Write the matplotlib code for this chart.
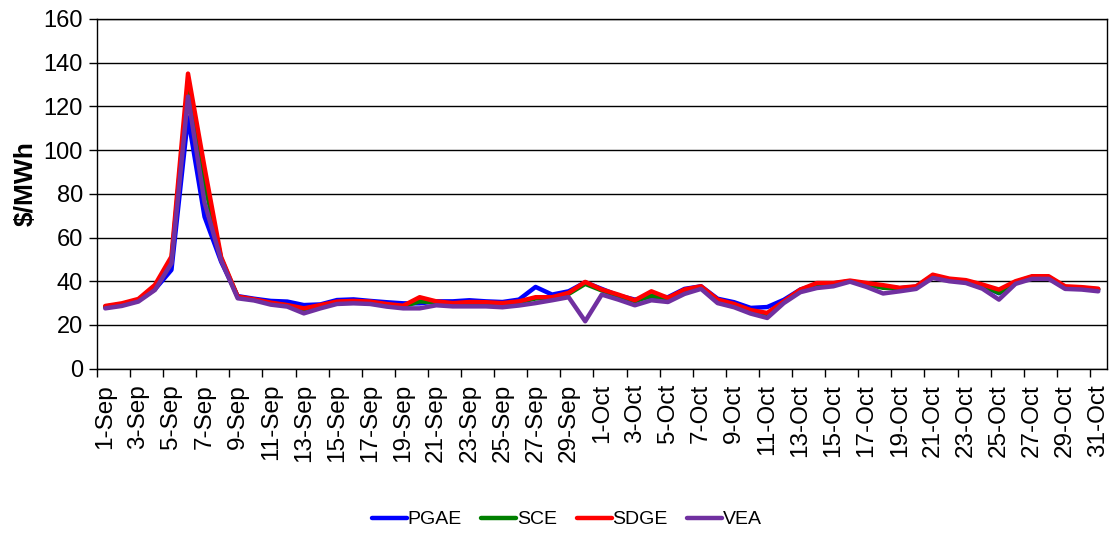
import matplotlib.pyplot as plt
import numpy as np

plt.rcParams["font.family"] = ["Liberation Sans", "DejaVu Sans"]

DAYS = [f"{d}-Sep" for d in range(1, 31)] + [f"{d}-Oct" for d in range(1, 32)]

PGAE = [28.2, 29.3, 31.2, 36.3, 45.2, 115.0, 69.5, 49.0, 33.2, 32.0,
        31.0, 30.7, 29.1, 29.4, 31.4, 31.7, 31.0, 30.4, 29.9, 29.9,
        30.8, 30.8, 31.3, 30.8, 30.5, 31.6, 37.4, 33.9, 35.4, 39.5,
        36.5, 33.5, 31.6, 33.0, 32.7, 36.5, 37.7, 32.0, 30.4, 27.8,
        28.2, 31.5, 36.2, 38.5, 39.0, 40.0, 38.8, 37.5, 36.8, 37.5,
        42.5, 40.8, 40.0, 38.0, 34.5, 39.5, 42.0, 42.0, 37.2, 36.8,
        36.2]

SCE = [28.4, 29.5, 31.5, 37.5, 49.5, 130.0, 85.0, 50.5, 32.8, 31.5,
       30.0, 29.0, 27.2, 28.8, 30.4, 30.8, 30.4, 29.3, 28.5, 30.8,
       30.3, 29.6, 30.0, 29.8, 29.5, 30.4, 32.1, 32.3, 34.2, 38.8,
       35.8, 33.3, 30.8, 33.4, 32.0, 35.7, 37.2, 31.2, 29.2, 26.5,
       25.0, 30.5, 35.8, 38.8, 38.7, 40.0, 38.5, 37.0, 36.7, 37.3,
       42.5, 40.8, 40.0, 38.0, 34.7, 39.6, 42.0, 41.8, 37.3, 37.0,
       36.3]

SDGE = [28.7, 29.9, 31.9, 38.3, 51.3, 135.0, 92.0, 51.1, 33.0, 31.7,
        30.2, 29.1, 27.6, 29.1, 30.7, 31.0, 30.7, 29.6, 28.8, 32.7,
        30.8, 30.0, 30.5, 30.4, 30.0, 30.8, 32.7, 32.7, 34.7, 39.7,
        36.2, 33.9, 31.3, 35.4, 32.4, 36.2, 37.7, 31.6, 29.6, 26.8,
        25.5, 30.8, 36.2, 39.2, 39.2, 40.3, 39.2, 38.2, 37.0, 37.7,
        43.0, 41.2, 40.5, 38.5, 36.2, 40.0, 42.3, 42.3, 37.7, 37.3,
        36.6]

VEA = [27.6, 28.7, 30.7, 36.0, 48.2, 124.5, 76.0, 49.6, 32.2, 31.2,
       29.3, 28.4, 25.3, 27.6, 29.6, 29.9, 29.6, 28.4, 27.6, 27.6,
       29.0, 28.5, 28.5, 28.5, 28.1, 28.9, 30.0, 31.3, 32.7, 21.7,
       33.9, 31.6, 29.0, 31.3, 30.5, 34.2, 36.5, 30.0, 28.1, 25.2,
       23.2, 30.0, 35.0, 36.9, 37.7, 39.8, 37.4, 34.4, 35.4, 36.5,
       41.5, 40.0, 39.2, 36.6, 31.6, 38.8, 41.1, 41.1, 36.5, 36.2,
       35.4]

SERIES = [
    ("PGAE", PGAE, "#0000FF"),
    ("SCE", SCE, "#008000"),
    ("SDGE", SDGE, "#FF0000"),
    ("VEA", VEA, "#7030A0"),
]


def main() -> None:
    fig = plt.figure(figsize=(11.16, 5.33), dpi=100)
    ax = fig.add_axes([0.0869, 0.3083, 0.9046, 0.6561])

    x = np.arange(len(DAYS))
    for name, values, color in SERIES:
        ax.plot(x, values, color=color, linewidth=3.2, label=name,
                solid_joinstyle="round", solid_capstyle="round")

    ax.set_xlim(-0.5, len(DAYS) - 0.5)
    ax.set_ylim(0, 160)
    ax.set_yticks(np.arange(0, 161, 20))
    ax.yaxis.grid(True, color="black", linewidth=1.0)
    ax.set_axisbelow(True)

    # tick marks between categories, labels on every second day
    ax.set_xticks(np.arange(-0.5, len(DAYS) - 1, 2))
    ax.set_xticklabels([])
    ax.set_xticks(x[::2], minor=True)
    ax.set_xticklabels(DAYS[::2], minor=True, rotation=90, fontsize=17.5)
    ax.tick_params(axis="x", which="major", length=6, width=1, direction="out")
    ax.tick_params(axis="x", which="minor", length=0, pad=11)
    ax.tick_params(axis="y", labelsize=17, length=6, width=1, pad=4)

    for spine in ax.spines.values():
        spine.set_color("black")
        spine.set_linewidth(1.0)

    ax.set_ylabel("$/MWh", fontsize=19, fontweight="bold")
    ax.yaxis.set_label_coords(-0.059, 0.53)

    fig.legend(loc="center", bbox_to_anchor=(0.508, 0.025), ncol=4,
               frameon=False, fontsize=14, handlelength=1.8,
               handletextpad=0.05, columnspacing=1.0)

    fig.savefig("out.png", dpi=100)
    plt.close(fig)


if __name__ == "__main__":
    main()
